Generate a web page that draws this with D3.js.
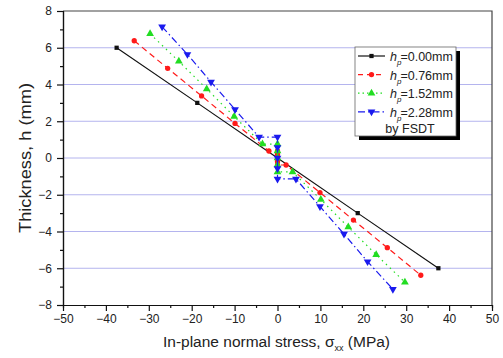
<!DOCTYPE html>
<html>
<head>
<meta charset="utf-8">
<script src="https://cdn.jsdelivr.net/npm/d3@7"></script>
<style>
    body { margin: 0; background: #fff; }
    text { font-family: Arial, "Liberation Sans", sans-serif; }
</style>
</head>
<body>
<script>
//wrap everything in a self-executing anonymous function
(function () {

//chart data: stress (MPa) and thickness position (mm) for each core height
    var stressH000 = [-37.5, -18.7, 0, 18.7, 37.5];
    var thickH000 = [6, 3, 0, -3, -6];

    var stressH076 = [-33.4, -25.6, -17.7, -9.9, -2.0, 0, 0, 0, 0, 0, 2.0, 9.9, 17.7, 25.6, 33.4];
    var thickH076 = [6.38, 4.88, 3.38, 1.88, 0.38, 0.38, 0.19, 0, -0.19, -0.38, -0.38, -1.88, -3.38, -4.88, -6.38];

    var stressH152 = [-29.7, -23.0, -16.5, -10.1, -3.5, 0, 0, 0, 0, 0, 3.5, 10.1, 16.5, 23.0, 29.7];
    var thickH152 = [6.76, 5.26, 3.76, 2.26, 0.76, 0.76, 0.38, 0, -0.38, -0.76, -0.76, -2.26, -3.76, -5.26, -6.76];

    var stressH228 = [-26.9, -21.0, -15.5, -9.9, -4.3, 0, 0, 0, 0, 0, 4.3, 9.9, 15.5, 21.0, 26.9];
    var thickH228 = [7.14, 5.64, 4.14, 2.64, 1.14, 1.14, 0.57, 0, -0.57, -1.14, -1.14, -2.64, -4.14, -5.64, -7.14];

    var seriesLabels = ["=0.00mm", "=0.76mm", "=1.52mm", "=2.28mm"];
    var xTicks = [-50, -40, -30, -20, -10, 0, 10, 20, 30, 40, 50];
    var yTicks = [-8, -6, -4, -2, 0, 2, 4, 6, 8];

    var width = 503,
        height = 358,
        left = 63,
        right = 492,
        top = 11,
        bottom = 305;

    var xScale = d3.scaleLinear().domain([-50, 50]).range([left, right]);
    var yScale = d3.scaleLinear().domain([-8, 8]).range([bottom, top]);

    var svg = d3.select("body")
        .append("svg")
        .attr("width", width)
        .attr("height", height);

    //horizontal grid lines
    svg.append("g")
        .selectAll("line")
        .data(yTicks.slice(1, -1))
        .enter()
        .append("line")
        .attr("x1", left)
        .attr("x2", right)
        .attr("y1", function (d) { return yScale(d); })
        .attr("y2", function (d) { return yScale(d); })
        .style("stroke", "#b4b4ee")
        .style("stroke-width", 1);

    //frame on top and right
    svg.append("path")
        .attr("d", "M" + left + "," + top + "H" + right + "V" + bottom)
        .style("fill", "none")
        .style("stroke", "#444")
        .style("stroke-width", 1.2);

    //minor ticks
    var xMinor = d3.axisBottom(xScale).tickValues(d3.range(-45, 50, 10)).tickSize(3).tickFormat("");
    var yMinor = d3.axisLeft(yScale).tickValues(d3.range(-7, 8, 2)).tickSize(3).tickFormat("");

    svg.append("g").attr("class", "axis").attr("transform", "translate(0," + bottom + ")").call(xMinor);
    svg.append("g").attr("class", "axis").attr("transform", "translate(" + left + ",0)").call(yMinor);

    //major axes
    var xAxis = d3.axisBottom(xScale).tickValues(xTicks).tickSize(6).tickPadding(3).tickSizeOuter(0);
    var yAxis = d3.axisLeft(yScale).tickValues(yTicks).tickSize(6).tickPadding(5).tickSizeOuter(0);

    svg.append("g").attr("class", "axis").attr("transform", "translate(0," + bottom + ")").call(xAxis);
    svg.append("g").attr("class", "axis").attr("transform", "translate(" + left + ",0)").call(yAxis);

    svg.selectAll(".axis path, .axis line").style("stroke", "#111").style("stroke-width", 1.2);
    svg.selectAll(".axis text")
        .style("font-size", "12px")
        .style("fill", "#222")
        .style("font-family", "Arial, 'Liberation Sans', sans-serif");

    //axis titles
    var xTitle = svg.append("text")
        .attr("x", (left + right) / 2 - 1)
        .attr("y", 347)
        .attr("text-anchor", "middle")
        .style("font-size", "15.5px")
        .style("fill", "#222");
    xTitle.append("tspan").text("In-plane normal stress, ");
    xTitle.append("tspan").text("\u03c3");
    xTitle.append("tspan").attr("dy", 4).style("font-size", "9px").text("xx");
    xTitle.append("tspan").attr("dy", -4).text(" (MPa)");

    svg.append("text")
        .attr("transform", "translate(31,158) rotate(-90)")
        .attr("text-anchor", "middle")
        .attr("textLength", 150)
        .attr("lengthAdjust", "spacingAndGlyphs")
        .style("font-size", "16.5px")
        .style("fill", "#222")
        .text("Thickness, h (mm)");

    //series definitions
    var series = [
        {x: stressH000, y: thickH000, color: "#111", dash: null, shape: d3.symbolSquare, size: 18, rot: 0},
        {x: stressH076, y: thickH076, color: "#ff1a1a", dash: "6,4", shape: d3.symbolCircle, size: 22, rot: 0},
        {x: stressH152, y: thickH152, color: "#22dd22", dash: "1.5,4", shape: d3.symbolTriangle, size: 26, rot: 0},
        {x: stressH228, y: thickH228, color: "#1a1aee", dash: "7,3,1.5,3", shape: d3.symbolTriangle, size: 26, rot: 180}
    ];

    var line = d3.line()
        .x(function (d) { return xScale(d[0]); })
        .y(function (d) { return yScale(d[1]); });

    series.forEach(function (s) {
        var pts = s.x.map(function (v, i) { return [v, s.y[i]]; });

        svg.append("path")
            .datum(pts)
            .attr("d", line)
            .style("fill", "none")
            .style("stroke", s.color)
            .style("stroke-width", 1.2)
            .style("stroke-dasharray", s.dash);

        svg.append("g")
            .selectAll("path")
            .data(pts)
            .enter()
            .append("path")
            .attr("d", d3.symbol().type(s.shape).size(s.size))
            .attr("transform", function (d) {
                return "translate(" + xScale(d[0]) + "," + yScale(d[1]) + ") rotate(" + s.rot + ")";
            })
            .style("fill", s.color);
    });

    //legend box with drop shadow
    var lx = 355, ly = 47, lw = 101, lh = 89;
    svg.append("rect")
        .attr("x", lx + 4).attr("y", ly + 4)
        .attr("width", lw).attr("height", lh)
        .style("fill", "#000");
    svg.append("rect")
        .attr("x", lx).attr("y", ly)
        .attr("width", lw).attr("height", lh)
        .style("fill", "#fff")
        .style("stroke", "#666")
        .style("stroke-width", 0.8);

    series.forEach(function (s, i) {
        var yy = 56 + i * 18.6;

        svg.append("line")
            .attr("x1", 358).attr("x2", 385)
            .attr("y1", yy).attr("y2", yy)
            .style("stroke", s.color)
            .style("stroke-width", 1.2)
            .style("stroke-dasharray", s.dash === "1.5,4" ? "1.5,3" : (s.dash === "6,4" ? "5,4" : s.dash));

        svg.append("path")
            .attr("d", d3.symbol().type(s.shape).size(s.size))
            .attr("transform", "translate(371.5," + yy + ") rotate(" + s.rot + ")")
            .style("fill", s.color);

        //italic h with subscript p, then the value
        var t = svg.append("text")
            .attr("x", 390)
            .attr("y", yy + 5)
            .style("font-size", "12.5px")
            .style("fill", "#222");
        t.append("tspan").style("font-style", "italic").text("h");
        t.append("tspan").attr("dy", 4).style("font-size", "8px").style("font-style", "italic").text("p");
        t.append("tspan").attr("dy", -4).attr("dx", -1).text(seriesLabels[i]);
    });

    svg.append("text")
        .attr("x", 410)
        .attr("y", 133)
        .attr("text-anchor", "middle")
        .style("font-size", "12.5px")
        .style("fill", "#222")
        .text("by FSDT");

})();
</script>
</body>
</html>
